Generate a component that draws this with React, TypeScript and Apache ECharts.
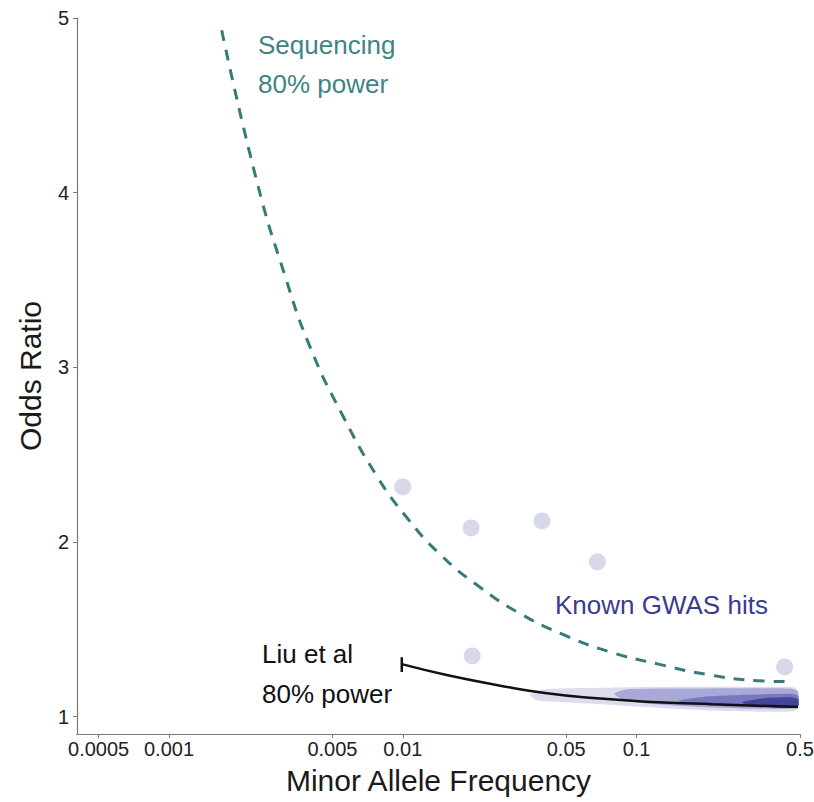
import React, { useEffect, useRef } from "react";
import * as echarts from "echarts";

// Axis ticks
const X_MIN = 0.000404;
const X_MAX = 0.5;
const xTickValues = [0.0005, 0.001, 0.005, 0.01, 0.05, 0.1, 0.5];
const xTickLabels = ["0.0005", "0.001", "0.005", "0.01", "0.05", "0.1", "0.5"];
const Y_MIN = 0.9;
const Y_MAX = 5;
const yTickValues = [1, 2, 3, 4, 5];

// Sequencing 80% power curve (dashed)
const seqMaf = [0.00168, 0.00238, 0.00314, 0.004, 0.0055, 0.0078, 0.0104, 0.0144, 0.0214, 0.0317, 0.0484, 0.077, 0.124, 0.202, 0.331, 0.444];
const seqOR = [4.93, 4.06, 3.52, 3.12, 2.73, 2.37, 2.14, 1.93, 1.74, 1.59, 1.47, 1.37, 1.3, 1.24, 1.205, 1.2];

// Liu et al 80% power curve (solid)
const liuMaf = [0.0099, 0.0154, 0.0252, 0.0413, 0.0675, 0.11, 0.212, 0.49];
const liuOR = [1.3, 1.238, 1.181, 1.133, 1.105, 1.085, 1.07, 1.055];
const liuCapOR = [1.255, 1.34];

// Known GWAS hits (individual points)
const hitMaf = [0.01, 0.0196, 0.0394, 0.068, 0.0198, 0.43];
const hitOR = [2.315, 2.08, 2.12, 1.886, 1.347, 1.284];

// Density of known GWAS hits (outline of each level, maf / OR)
const densLightMaf = [0.035, 0.04, 0.06, 0.1, 0.2, 0.35, 0.47, 0.49, 0.49, 0.47, 0.35, 0.2, 0.12, 0.07, 0.045, 0.037];
const densLightOR = [1.125, 1.155, 1.163, 1.168, 1.17, 1.17, 1.168, 1.145, 1.05, 1.03, 1.028, 1.035, 1.05, 1.07, 1.085, 1.095];
const densMidMaf = [0.08, 0.09, 0.15, 0.3, 0.45, 0.49, 0.49, 0.46, 0.3, 0.18, 0.12, 0.09];
const densMidOR = [1.13, 1.155, 1.16, 1.162, 1.16, 1.145, 1.06, 1.045, 1.045, 1.055, 1.07, 1.09];
const densDarkMaf = [0.15, 0.2, 0.3, 0.45, 0.49, 0.49, 0.4, 0.25, 0.18];
const densDarkOR = [1.09, 1.115, 1.125, 1.13, 1.12, 1.06, 1.052, 1.058, 1.07];
const densDeepMaf = [0.28, 0.35, 0.45, 0.49, 0.49, 0.4, 0.32];
const densDeepOR = [1.08, 1.105, 1.11, 1.1, 1.058, 1.052, 1.06];

const densityLevels = [
  { maf: densLightMaf, or: densLightOR, color: "#dcdcee" },
  { maf: densMidMaf, or: densMidOR, color: "#a9a9d7" },
  { maf: densDarkMaf, or: densDarkOR, color: "#7878bf" },
  { maf: densDeepMaf, or: densDeepOR, color: "#44449a" },
];

const FONT = '"Liberation Sans", Arial, Helvetica, sans-serif';
const lg = (v: number) => Math.log10(v);

export default function App() {
  const ref = useRef<HTMLDivElement>(null);

  useEffect(() => {
    if (!ref.current) return;
    const chart = echarts.init(ref.current, null, { renderer: "svg" });

    const option: any = {
      animation: false,
      backgroundColor: "#ffffff",
      textStyle: { fontFamily: FONT },
      grid: { left: 77, right: 14, top: 18, bottom: 68, containLabel: false, outerBoundsMode: "none" },
      xAxis: {
        type: "value",
        min: lg(X_MIN),
        max: lg(X_MAX),
        name: "Minor Allele Frequency",
        nameLocation: "middle",
        nameGap: 31,
        nameTextStyle: { fontSize: 30, color: "#1a1a1a", fontFamily: FONT },
        axisLine: { show: true, onZero: false, lineStyle: { color: "#7a7a7a", width: 1.2 } },
        axisTick: { show: true, length: 4, customValues: xTickValues.map(lg), lineStyle: { color: "#7a7a7a" } },
        axisLabel: {
          show: true,
          customValues: xTickValues.map(lg),
          margin: 5,
          fontSize: 20,
          color: "#222",
          fontFamily: FONT,
          hideOverlap: false,
          formatter: (v: number) => {
            const i = xTickValues.findIndex((t) => Math.abs(lg(t) - v) < 1e-6);
            return i >= 0 ? xTickLabels[i] : "";
          },
        },
        splitLine: { show: false },
      },
      yAxis: {
        type: "value",
        min: Y_MIN,
        max: Y_MAX,
        name: "Odds Ratio",
        nameLocation: "middle",
        nameGap: 32,
        nameRotate: 90,
        nameTextStyle: { fontSize: 30, color: "#1a1a1a", fontFamily: FONT },
        axisLine: { show: true, onZero: false, lineStyle: { color: "#7a7a7a", width: 1.2 } },
        axisTick: { show: true, length: 4, customValues: yTickValues, lineStyle: { color: "#7a7a7a" } },
        axisLabel: { show: true, customValues: yTickValues, margin: 8, fontSize: 20, color: "#222", fontFamily: FONT },
        splitLine: { show: false },
      },
      series: [
        {
          type: "custom",
          name: "density",
          coordinateSystem: "cartesian2d",
          silent: true,
          z: 1,
          data: densityLevels.map((l) => [lg(l.maf[0]), l.or[0]]),
          renderItem: (params: any, api: any) => {
            const lvl = densityLevels[params.dataIndex];
            const pts = lvl.maf.map((m, i) => api.coord([lg(m), lvl.or[i]]));
            return {
              type: "polygon",
              shape: { points: pts, smooth: 0.2 },
              style: { fill: lvl.color, stroke: "none" },
            };
          },
        },
        {
          type: "scatter",
          name: "Known GWAS hits",
          z: 2,
          symbol: "circle",
          symbolSize: 17,
          itemStyle: { color: "#cdcfe6" },
          data: hitMaf.map((m, i) => [lg(m), hitOR[i]]),
        },
        {
          type: "line",
          name: "Sequencing 80% power",
          z: 3,
          smooth: true,
          showSymbol: false,
          symbol: "none",
          lineStyle: { color: "#367a7a", width: 3, type: [11, 9] },
          data: seqMaf.map((m, i) => [lg(m), seqOR[i]]),
        },
        {
          type: "line",
          name: "Liu et al 80% power",
          z: 4,
          smooth: true,
          showSymbol: false,
          symbol: "none",
          lineStyle: { color: "#111111", width: 2.5 },
          data: liuMaf.map((m, i) => [lg(m), liuOR[i]]),
        },
        {
          type: "line",
          name: "Liu cap",
          z: 4,
          showSymbol: false,
          symbol: "none",
          lineStyle: { color: "#111111", width: 2.5 },
          data: liuCapOR.map((o) => [lg(liuMaf[0]), o]),
        },
      ],
      graphic: [
        { type: "text", x: 258, y: 45, style: { text: "Sequencing", font: `26px ${FONT}`, fill: "#3f8484", textVerticalAlign: "middle" } },
        { type: "text", x: 258, y: 84, style: { text: "80% power", font: `26px ${FONT}`, fill: "#3f8484", textVerticalAlign: "middle" } },
        { type: "text", x: 555, y: 605, style: { text: "Known GWAS hits", font: `26px ${FONT}`, fill: "#3b3b8e", textVerticalAlign: "middle" } },
        { type: "text", x: 262, y: 654, style: { text: "Liu et al", font: `26px ${FONT}`, fill: "#111111", textVerticalAlign: "middle" } },
        { type: "text", x: 262, y: 694, style: { text: "80% power", font: `26px ${FONT}`, fill: "#111111", textVerticalAlign: "middle" } },
      ],
    };

    chart.setOption(option);
    return () => chart.dispose();
  }, []);

  return <div ref={ref} style={{ position: "fixed", left: 0, top: 0, width: 814, height: 802 }} />;
}
